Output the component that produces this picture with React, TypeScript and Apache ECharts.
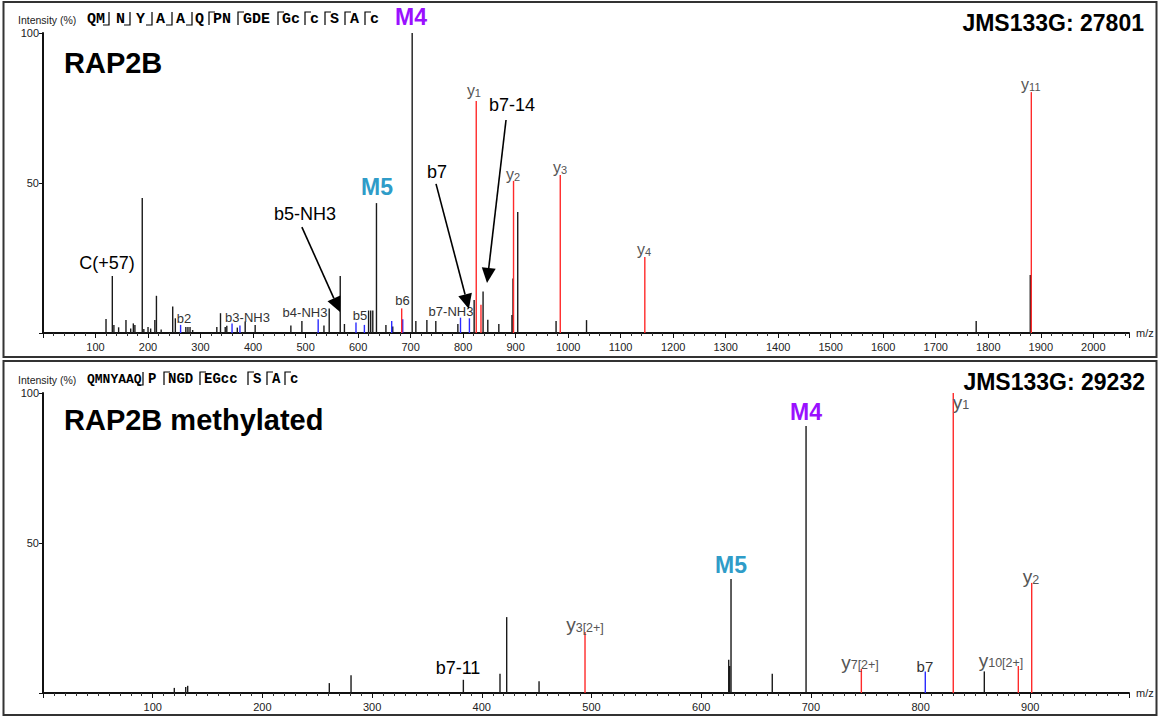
import React, { useEffect, useRef } from "react";
import * as echarts from "echarts";

const FONT = '"Liberation Sans", Arial, sans-serif';
const MONO = '"Liberation Mono", "DejaVu Sans Mono", monospace';

// ---------- Data: top spectrum (JMS133G: 27801) ----------
const topBlackPeaks: [number, number][] = [
  [120, 4.7], [132, 19], [135, 2.7], [144, 1.9], [158, 4.3], [167, 1.5], [172, 3.2], [175, 2.7],
  [189, 45], [192, 1.3], [200, 2], [205, 1.5], [213, 4.3], [216, 12.4], [225, 1.2], [247, 8.8],
  [252, 4.9], [272, 2], [276, 2], [280, 2], [285, 1], [331, 2], [338, 6.6], [347, 2], [350, 2.4],
  [370, 1.8], [385, 3.8], [404, 2.7], [472, 2.5], [493, 4], [535, 2.5], [545, 8.2], [566, 19],
  [574, 3], [620, 7.5], [624, 7.5], [628, 7.5], [635, 43.3], [653, 2.7], [666, 2.2], [703, 100],
  [710, 4], [731, 4.3], [748, 4], [790, 3], [821, 11], [838, 13.8], [847, 4.4], [868, 3],
  [893, 6], [895, 18.2], [904, 40.3], [977, 4], [1035, 4.3], [1777, 4], [1880, 19.3],
];
const topRedPeaks: [number, number][] = [
  [683, 8.2], [825, 77.3], [834, 9.4], [896, 50.7], [985, 52.7], [1146, 25.3], [1882, 80.3],
];
const topBluePeaks: [number, number][] = [
  [262, 2.7], [360, 3.2], [375, 2.5], [524, 4.6], [596, 3.5], [612, 2.7], [664, 4], [685, 4.6],
  [795, 5.1], [812, 4.9],
];
// label anchors [m/z, intensity, text]; "y|1" = y with subscript 1
const topIonLabels: [number, number, string][] = [
  [268.5, 5, "b2"], [389.4, 5.3, "b3-NH3"], [498.9, 7, "b4-NH3"], [603.6, 6, "b5"],
  [684.6, 10.7, "b6"], [776.9, 7.3, "b7-NH3"], [820.6, 80.7, "y|1"], [895, 53, "y|2"],
  [984.5, 55.3, "y|3"], [1144.5, 28, "y|4"], [1881, 82.7, "y|11"],
];
const topNotes: [number, number, string][] = [
  [121.9, 23.3, "C(+57)"], [498.9, 39.7, "b5-NH3"], [750.3, 53.7, "b7"], [893, 76, "b7-14"],
];
const topMods: [number, number, string][] = [[700.8, 105.3, "M4"], [636, 48.7, "M5"]];
const topArrows: [number, number, number, number][] = [
  [493, 35.3, 565.6, 7], [748.4, 49.7, 811, 8], [881.7, 71, 845.5, 16.7],
];

// ---------- Data: bottom spectrum (JMS133G: 29232) ----------
const botBlackPeaks: [number, number][] = [
  [119.7, 1.7], [130.1, 2], [131.9, 2.4], [261, 3.3], [280.8, 5.9], [383.2, 4.4], [416.6, 6.4],
  [422.7, 25.3], [452.2, 3.9], [625.1, 11.1], [626, 9], [627.2, 38], [664.8, 6.4], [695.6, 89],
  [858.1, 7.2],
];
const botRedPeaks: [number, number][] = [
  [494.1, 20.3], [746, 8], [829.8, 100], [889.1, 9], [901.3, 36.7],
];
const botBluePeaks: [number, number][] = [[804.3, 7.2]];
const botIonLabels: [number, number, string][] = [
  [494.1, 22.7, "y|3[2+]"], [744.8, 10.3, "y|7[2+]"], [804, 9, "b7"], [873.3, 11, "y|10[2+]"],
  [836.8, 97, "y|1"], [900.7, 38.7, "y|2"],
];
const botNotes: [number, number, string][] = [[378.3, 8.3, "b7-11"]];
const botMods: [number, number, string][] = [[695.6, 93.7, "M4"], [627.2, 42.7, "M5"]];

const topXRange = { min: 0, max: 2068 };
const botXRange = { min: 0, max: 990 };

const modColor: Record<string, string> = { M4: "#9a10ff", M5: "#2f9cc8" };

function peakSeries(data: [number, number][], color: string, idx: number, z: number) {
  return {
    type: "custom",
    xAxisIndex: idx,
    yAxisIndex: idx,
    z,
    silent: true,
    clip: false,
    data,
    encode: { x: 0, y: 1 },
    renderItem: (params: any, api: any) => {
      const x = api.value(0);
      const y = api.value(1);
      const a = api.coord([x, 0]);
      const b = api.coord([x, y]);
      return {
        type: "line",
        shape: { x1: a[0], y1: a[1], x2: b[0], y2: b[1] },
        style: { stroke: color, lineWidth: 1.4 },
      };
    },
  };
}

function makeIonStyle(mainSize: number, subSize: number, subPad: number, plainSize: number) {
  return (t: string) => {
    const parts = t.split("|");
    if (parts.length === 1) {
      return { text: t, fill: "#333", fontSize: plainSize, fontFamily: FONT };
    }
    const c = "#555";
    return {
      text: `{a|${parts[0]}}{b|${parts[1]}}`,
      fill: c,
      fontFamily: FONT,
      rich: {
        a: { fontSize: mainSize, lineHeight: mainSize, verticalAlign: "top", fill: c, color: c, fontFamily: FONT },
        b: { fontSize: subSize, lineHeight: subSize, padding: [subPad, 0, 0, 0], verticalAlign: "bottom", fill: c, color: c, fontFamily: FONT },
      },
    };
  };
}
const topIonStyle = makeIonStyle(16, 11, 8, 13);
const botIonStyle = makeIonStyle(19, 12.5, 10, 15);

function noteStyle(t: string) {
  return { text: t, fill: "#000", fontSize: 18, fontFamily: FONT };
}
function modStyle(t: string) {
  return { text: t, fill: modColor[t] || "#000", fontSize: 23, fontWeight: "bold", fontFamily: FONT };
}

function textSeries(items: [number, number, string][], idx: number, mk: (t: string) => any) {
  return {
    type: "custom",
    xAxisIndex: idx,
    yAxisIndex: idx,
    z: 20,
    silent: true,
    clip: false,
    data: items.map((d) => [d[0], d[1]]),
    encode: { x: 0, y: 1 },
    renderItem: (params: any, api: any) => {
      const it = items[params.dataIndex];
      const p = api.coord([it[0], it[1]]);
      return {
        type: "text",
        x: p[0],
        y: p[1],
        style: { ...mk(it[2]), align: "center", verticalAlign: "middle" },
      };
    },
  };
}

function arrowSeries(items: [number, number, number, number][], idx: number) {
  return {
    type: "custom",
    xAxisIndex: idx,
    yAxisIndex: idx,
    z: 25,
    silent: true,
    clip: false,
    data: items,
    encode: { x: [0, 2], y: [1, 3] },
    renderItem: (params: any, api: any) => {
      const it = items[params.dataIndex];
      const a = api.coord([it[0], it[1]]);
      const b = api.coord([it[2], it[3]]);
      const dx = b[0] - a[0];
      const dy = b[1] - a[1];
      const len = Math.sqrt(dx * dx + dy * dy);
      const ux = dx / len;
      const uy = dy / len;
      const hl = 15;
      const hw = 7;
      const bx = b[0] - ux * hl;
      const by = b[1] - uy * hl;
      return {
        type: "group",
        children: [
          { type: "line", shape: { x1: a[0], y1: a[1], x2: bx, y2: by }, style: { stroke: "#000", lineWidth: 1.6 } },
          {
            type: "polygon",
            shape: { points: [[b[0], b[1]], [bx - uy * hw, by + ux * hw], [bx + uy * hw, by - ux * hw]] },
            style: { fill: "#000" },
          },
        ],
      };
    },
  };
}

function seqGraphics(
  groups: [number, string, number][],
  floors: number[],
  ceils: number[],
  yt: number,
  yb: number
) {
  const els: any[] = [];
  const yc = (yt + yb) / 2 + 0.5;
  groups.forEach(([x, t, fs]) => {
    els.push({
      type: "text",
      x,
      y: yc,
      style: { text: t, fill: "#000", font: `bold ${fs}px ${MONO}`, verticalAlign: "middle", align: "left" },
    });
  });
  floors.forEach((x) => {
    els.push({
      type: "polyline",
      shape: { points: [[x - 6, yb], [x, yb], [x, yt]] },
      style: { stroke: "#000", lineWidth: 1.2, fill: null },
    });
  });
  ceils.forEach((x) => {
    els.push({
      type: "polyline",
      shape: { points: [[x, yb], [x, yt], [x + 6, yt]] },
      style: { stroke: "#000", lineWidth: 1.2, fill: null },
    });
  });
  return els;
}

function xAxisCfg(idx: number, range: { min: number; max: number }, minorSplit: number) {
  return {
    type: "value",
    gridIndex: idx,
    min: range.min,
    max: range.max,
    interval: 100,
    name: "m/z",
    nameLocation: "end",
    nameGap: 7,
    nameTextStyle: { fontSize: 11, color: "#222", fontFamily: FONT, verticalAlign: "middle", padding: [0, 0, 6, 0] },
    axisLine: { show: true, lineStyle: { color: "#111", width: 2 } },
    axisTick: { show: true, length: 5, lineStyle: { color: "#111", width: 1 } },
    minorTick: { show: true, splitNumber: minorSplit, length: 3, lineStyle: { color: "#333", width: 1 } },
    axisLabel: {
      fontSize: 11,
      color: "#222",
      fontFamily: FONT,
      margin: 8,
      formatter: (v: number) => (v > 0 && v % 100 === 0 ? String(v) : ""),
    },
    splitLine: { show: false },
    minorSplitLine: { show: false },
  };
}
function yAxisCfg(idx: number) {
  return {
    type: "value",
    gridIndex: idx,
    min: 0,
    max: 100,
    interval: 50,
    axisLine: { show: true, lineStyle: { color: "#111", width: 2 } },
    axisTick: { show: true, length: 4, lineStyle: { color: "#111", width: 1 } },
    axisLabel: {
      fontSize: 11,
      color: "#222",
      fontFamily: FONT,
      margin: 4,
      formatter: (v: number) => (v > 0 ? String(v) : ""),
    },
    splitLine: { show: false },
  };
}

export default function App() {
  const ref = useRef<HTMLDivElement>(null);
  useEffect(() => {
    if (!ref.current) return;
    const chart = echarts.init(ref.current, null, { renderer: "svg" });
    const graphic: any[] = [
      { type: "rect", shape: { x: 3.5, y: 2, width: 1153, height: 355 }, style: { stroke: "#333", lineWidth: 2, fill: null } },
      { type: "rect", shape: { x: 3.5, y: 361, width: 1153, height: 354 }, style: { stroke: "#333", lineWidth: 2, fill: null } },
      { type: "text", x: 18, y: 20, style: { text: "Intensity (%)", fill: "#222", fontSize: 10.5, fontFamily: FONT, verticalAlign: "middle" } },
      { type: "text", x: 18, y: 380, style: { text: "Intensity (%)", fill: "#222", fontSize: 10.5, fontFamily: FONT, verticalAlign: "middle" } },
      { type: "text", x: 64, y: 63, style: { text: "RAP2B", fill: "#000", fontSize: 29, fontWeight: "bold", fontFamily: FONT, verticalAlign: "middle" } },
      { type: "text", x: 64, y: 420, style: { text: "RAP2B methylated", fill: "#000", fontSize: 29, fontWeight: "bold", fontFamily: FONT, verticalAlign: "middle" } },
      { type: "text", x: 1144, y: 23, style: { text: "JMS133G: 27801", fill: "#000", fontSize: 23, fontWeight: "bold", fontFamily: FONT, align: "right", verticalAlign: "middle" } },
      { type: "text", x: 1145, y: 382, style: { text: "JMS133G: 29232", fill: "#000", fontSize: 23, fontWeight: "bold", fontFamily: FONT, align: "right", verticalAlign: "middle" } },
      ...seqGraphics(
        [[87, "QM", 15], [116, "N", 15], [136, "Y", 15], [156, "A", 15], [176, "A", 15], [195, "Q", 15], [213, "PN", 15], [243, "GDE", 15], [282, "Gc", 15], [310, "c", 15], [330, "S", 15], [350, "A", 15], [370, "c", 15]],
        [109, 130, 152, 172, 192],
        [209, 238, 278, 305, 325, 345, 365],
        12, 25
      ),
      ...seqGraphics(
        [[87, "QMNYAAQ", 13], [148, "P", 14], [168, "NGD", 14], [204, "EGcc", 14], [253, "S", 14], [272, "A", 14], [290, "c", 14]],
        [143],
        [164, 200, 248, 267, 285],
        372, 385
      ),
    ];

    chart.setOption({
      animation: false,
      grid: [
        { left: 43, top: 33, width: 1086, height: 300 },
        { left: 43, top: 393, width: 1086, height: 300 },
      ],
      xAxis: [xAxisCfg(0, topXRange, 5), xAxisCfg(1, botXRange, 10)],
      yAxis: [yAxisCfg(0), yAxisCfg(1)],
      series: [
        peakSeries(topBlackPeaks, "#1a1a1a", 0, 2),
        peakSeries(topBluePeaks, "#2b2bff", 0, 3),
        peakSeries(topRedPeaks, "#ff2a2a", 0, 4),
        textSeries(topIonLabels, 0, topIonStyle),
        textSeries(topNotes, 0, noteStyle),
        textSeries(topMods, 0, modStyle),
        arrowSeries(topArrows, 0),
        peakSeries(botBlackPeaks, "#1a1a1a", 1, 2),
        peakSeries(botBluePeaks, "#2b2bff", 1, 3),
        peakSeries(botRedPeaks, "#ff2a2a", 1, 4),
        textSeries(botIonLabels, 1, botIonStyle),
        textSeries(botNotes, 1, noteStyle),
        textSeries(botMods, 1, modStyle),
      ],
      graphic,
    });
    return () => chart.dispose();
  }, []);
  return (
    <div
      ref={ref}
      style={{ position: "absolute", left: 0, top: 0, width: 1160, height: 717, background: "#fff" }}
    />
  );
}
